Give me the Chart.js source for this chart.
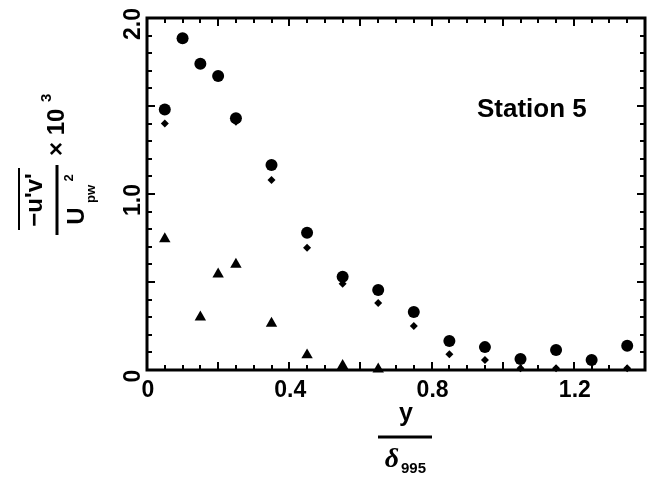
<!DOCTYPE html>
<html>
<head>
<meta charset="utf-8">
<script src="https://cdn.jsdelivr.net/npm/chart.js@4"></script>
<style>
html,body{margin:0;padding:0;background:#fff;}
canvas{display:block;}
</style>
</head>
<body>
<canvas id="c" width="655" height="490"></canvas>
<script>
// ---- data ----
const circleX   = [0.05, 0.10, 0.15, 0.20, 0.25, 0.35, 0.45, 0.55, 0.65, 0.75, 0.85, 0.95, 1.05, 1.15, 1.25, 1.35];
const circleY   = [1.48, 1.885, 1.74, 1.67, 1.43, 1.165, 0.78, 0.53, 0.455, 0.33, 0.165, 0.13, 0.063, 0.114, 0.057, 0.138];
const diamondX  = [0.05, 0.25, 0.35, 0.45, 0.55, 0.65, 0.75, 0.85, 0.95, 1.05, 1.15, 1.35];
const diamondY  = [1.40, 1.41, 1.08, 0.695, 0.49, 0.38, 0.25, 0.09, 0.057, 0.01, 0.01, 0.01];
const triangleX = [0.05, 0.15, 0.20, 0.25, 0.35, 0.45, 0.55, 0.65];
const triangleY = [0.745, 0.30, 0.545, 0.60, 0.265, 0.085, 0.025, 0.005];
const xTickValues = [0, 0.4, 0.8, 1.2];
const xTickLabels = ['0', '0.4', '0.8', '1.2'];
const yTickValues = [0, 1.0, 2.0];
const yTickLabels = ['0', '1.0', '2.0'];
const annotationText = 'Station 5';

const pts = (xs, ys) => xs.map((x, i) => ({x: x, y: ys[i]}));

const deco = {
  id: 'deco',
  afterDraw(chart) {
    const ctx = chart.ctx, a = chart.chartArea, sx = chart.scales.x, sy = chart.scales.y;
    ctx.save();
    ctx.strokeStyle = '#000';
    ctx.fillStyle = '#000';
    // frame
    ctx.lineWidth = 3;
    ctx.strokeRect(a.left, a.top, a.right - a.left, a.bottom - a.top);
    // inward ticks
    ctx.lineWidth = 2;
    ctx.beginPath();
    for (let i = 0; i <= 28; i++) {
      const px = Math.round(sx.getPixelForValue(i * 0.05));
      const L = (i % 4 === 0) ? 8 : 5;
      ctx.moveTo(px, a.bottom); ctx.lineTo(px, a.bottom - L);
      ctx.moveTo(px, a.top); ctx.lineTo(px, a.top + L);
    }
    for (let i = 0; i <= 20; i++) {
      const py = Math.round(sy.getPixelForValue(i * 0.1));
      const L = (i % 5 === 0) ? 8 : 5;
      ctx.moveTo(a.left, py); ctx.lineTo(a.left + L, py);
      ctx.moveTo(a.right, py); ctx.lineTo(a.right - L, py);
    }
    ctx.stroke();

    // x tick labels
    ctx.font = 'bold 23px "Liberation Sans", Arial, sans-serif';
    ctx.textAlign = 'center';
    ctx.textBaseline = 'middle';
    xTickValues.forEach((v, i) => {
      ctx.fillText(xTickLabels[i], sx.getPixelForValue(v) + 1, 391);
    });
    // y tick labels (rotated)
    yTickValues.forEach((v, i) => {
      const py = sy.getPixelForValue(v) + 6;
      ctx.save();
      ctx.translate(134, py);
      ctx.rotate(-Math.PI / 2);
      ctx.fillText(yTickLabels[i], 0, 0);
      ctx.restore();
    });

    // annotation
    ctx.font = 'bold 26px "Liberation Sans", Arial, sans-serif';
    ctx.textAlign = 'left';
    ctx.fillText(annotationText, 477, 110);

    // x axis title: y / delta_995
    ctx.textAlign = 'center';
    ctx.font = 'bold 25px "Liberation Sans", Arial, sans-serif';
    ctx.fillText('y', 406, 414);
    ctx.lineWidth = 3;
    ctx.beginPath(); ctx.moveTo(378, 437); ctx.lineTo(432, 437); ctx.stroke();
    ctx.font = 'bold italic 28px "Liberation Serif", serif';
    ctx.fillText('δ', 392, 460);
    ctx.font = 'bold 15px "Liberation Sans", Arial, sans-serif';
    ctx.textAlign = 'left';
    ctx.fillText('995', 401, 469);

    // y axis title (rotated): -u'v' / U_pw^2 x 10^3
    ctx.save();
    ctx.translate(57, 200);
    ctx.rotate(-Math.PI / 2);
    ctx.lineWidth = 3;
    ctx.beginPath(); ctx.moveTo(-35, 0); ctx.lineTo(35, 0); ctx.stroke();
    ctx.textAlign = 'center';
    ctx.font = 'bold 24px "Liberation Sans", Arial, sans-serif';
    ctx.fillText("\u2212u'v'", 0, -22);
    ctx.lineWidth = 2;
    ctx.beginPath(); ctx.moveTo(-30, -38); ctx.lineTo(32, -38); ctx.stroke();
    ctx.font = 'bold 24px "Liberation Sans", Arial, sans-serif';
    ctx.fillText('U', -16, 20);
    ctx.font = 'bold 13px "Liberation Sans", Arial, sans-serif';
    ctx.fillText('pw', 6, 34);
    ctx.fillText('2', 22, 12);
    ctx.font = 'bold 24px "Liberation Sans", Arial, sans-serif';
    ctx.textAlign = 'left';
    ctx.fillText('\u00d7 10', 44, 0);
    ctx.font = 'bold 15px "Liberation Sans", Arial, sans-serif';
    ctx.fillText('3', 98, -10);
    ctx.restore();

    ctx.restore();
  }
};

new Chart(document.getElementById('c'), {
  type: 'scatter',
  data: {
    datasets: [
      { label: 'circle', data: pts(circleX, circleY), pointStyle: 'circle', pointRadius: 6,
        backgroundColor: '#000', borderColor: '#000', borderWidth: 0, clip: false },
      { label: 'diamond', data: pts(diamondX, diamondY), pointStyle: 'rectRot', pointRadius: 4,
        backgroundColor: '#000', borderColor: '#000', borderWidth: 0, clip: false },
      { label: 'triangle', data: pts(triangleX, triangleY), pointStyle: 'triangle', pointRadius: 6.6,
        backgroundColor: '#000', borderColor: '#000', borderWidth: 0, clip: false }
    ]
  },
  options: {
    responsive: false,
    animation: false,
    events: [],
    layout: { padding: { left: 147, right: 10, top: 18, bottom: 120 } },
    plugins: { legend: { display: false }, tooltip: { enabled: false } },
    scales: {
      x: { type: 'linear', min: 0, max: 1.4,
           ticks: { display: false }, grid: { display: false }, border: { display: false },
           afterFit: s => { s.height = 0; } },
      y: { type: 'linear', min: 0, max: 2.0,
           ticks: { display: false }, grid: { display: false }, border: { display: false },
           afterFit: s => { s.width = 0; } }
    }
  },
  plugins: [deco]
});
</script>
</body>
</html>
